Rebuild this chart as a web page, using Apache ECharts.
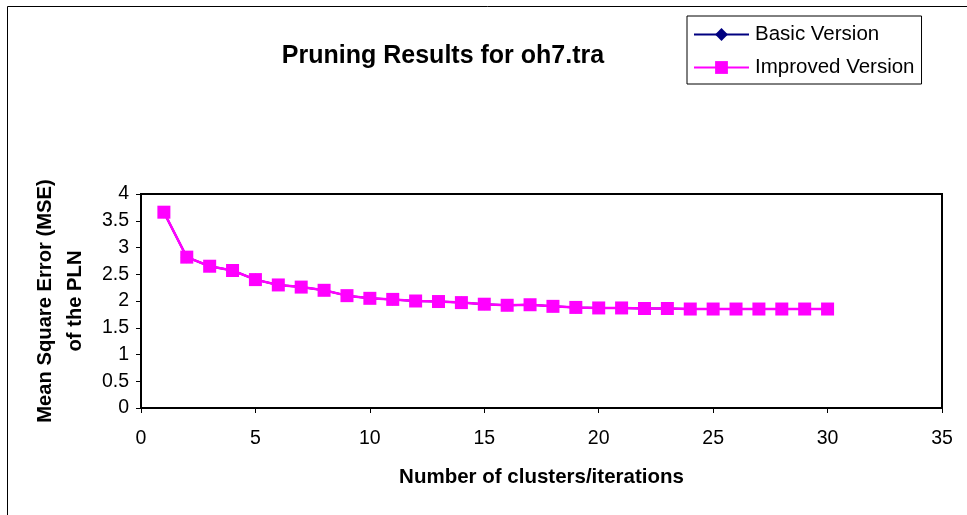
<!DOCTYPE html>
<html>
<head>
<meta charset="utf-8">
<script src="https://cdn.jsdelivr.net/npm/echarts@6/dist/echarts.min.js"></script>
<style>html,body{margin:0;padding:0;background:#fff;}#c{width:967px;height:515px;}</style>
</head>
<body>
<div id="c"></div>
<script>
const iterations = [1,2,3,4,5,6,7,8,9,10,11,12,13,14,15,16,17,18,19,20,21,22,23,24,25,26,27,28,29,30];
const basicVersion = [3.66,2.82,2.65,2.57,2.40,2.30,2.26,2.20,2.10,2.05,2.03,2.00,1.99,1.97,1.94,1.92,1.93,1.90,1.88,1.87,1.87,1.86,1.86,1.85,1.85,1.85,1.85,1.85,1.85,1.85];
const improvedVersion = [3.66,2.82,2.65,2.57,2.40,2.30,2.26,2.20,2.10,2.05,2.03,2.00,1.99,1.97,1.94,1.92,1.93,1.90,1.88,1.87,1.87,1.86,1.86,1.85,1.85,1.85,1.85,1.85,1.85,1.85];
const seriesNames = ['Basic Version', 'Improved Version'];
const titleText = 'Pruning Results for oh7.tra';
const xTitle = 'Number of clusters/iterations';
const yTitle = 'Mean Square Error (MSE)\nof the PLN';

const font = 'Liberation Sans, Arial, sans-serif';
const chart = echarts.init(document.getElementById('c'));
const pair = (xs, ys) => xs.map((x, i) => [x, ys[i]]);
chart.setOption({
  animation: false,
  backgroundColor: '#fff',
  title: {
    text: titleText, left: 438, top: 39, textAlign: 'center',
    textStyle: { fontFamily: font, fontSize: 25, fontWeight: 'bold', color: '#000' }
  },
  legend: {
    orient: 'vertical', left: 687, top: 16,
    borderColor: '#000', borderWidth: 1, padding: [8, 7, 6, 6],
    itemWidth: 55, itemHeight: 16, itemGap: 12,
    textStyle: { fontFamily: font, fontSize: 20.5, color: '#000', padding: [0, 0, 0, 1] },
    data: seriesNames
  },
  grid: { left: 141, right: 25, top: 194, bottom: 107, show: true, borderColor: '#000', borderWidth: 2, containLabel: false },
  xAxis: {
    type: 'value', min: 0, max: 35, interval: 5,
    name: xTitle, nameLocation: 'middle', nameGap: 59,
    nameTextStyle: { fontFamily: font, fontSize: 20.5, fontWeight: 'bold', color: '#000' },
    axisLine: { show: true, lineStyle: { color: '#000', width: 2 } },
    axisTick: { show: true, inside: false, length: 5, lineStyle: { color: '#000' } },
    axisLabel: { fontFamily: font, fontSize: 19.5, color: '#000', margin: 21 },
    splitLine: { show: false }
  },
  yAxis: {
    type: 'value', min: 0, max: 4, interval: 0.5,
    name: yTitle, nameLocation: 'middle', nameGap: 51, nameRotate: 90,
    nameTextStyle: { fontFamily: font, fontSize: 20.2, fontWeight: 'bold', color: '#000', lineHeight: 30, align: 'center' },
    axisLine: { show: true, lineStyle: { color: '#000', width: 2 } },
    axisTick: { show: true, inside: false, length: 5, lineStyle: { color: '#000' } },
    axisLabel: { fontFamily: font, fontSize: 19.5, color: '#000', margin: 12 },
    splitLine: { show: false }
  },
  graphic: [{
    type: 'rect', silent: true,
    shape: { x: 7.5, y: 6.5, width: 1200, height: 1000 },
    style: { fill: 'none', stroke: '#000', lineWidth: 1 }
  }],
  series: [
    {
      name: seriesNames[0], type: 'line', data: pair(iterations, basicVersion),
      symbol: 'diamond', symbolSize: 12,
      lineStyle: { color: '#000080', width: 2 },
      itemStyle: { color: '#000080' }
    },
    {
      name: seriesNames[1], type: 'line', data: pair(iterations, improvedVersion),
      symbol: 'rect', symbolSize: 13,
      lineStyle: { color: '#FF00FF', width: 2.5 },
      itemStyle: { color: '#FF00FF' }
    }
  ]
});
</script>
</body>
</html>
